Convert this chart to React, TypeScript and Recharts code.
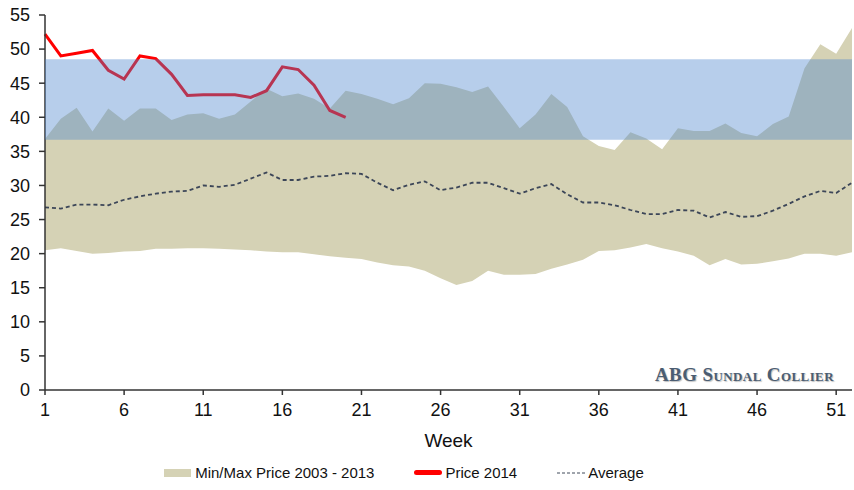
import React from 'react';
import { ComposedChart, Area, Line, XAxis, YAxis, ReferenceArea } from 'recharts';

// Weekly values
const weeks = Array.from({ length: 52 }, (_, i) => i + 1);

const minPrice = [
  20.5, 20.8, 20.4, 20.0, 20.1, 20.3, 20.4, 20.7, 20.7, 20.8, 20.8, 20.7, 20.6, 20.5, 20.3, 20.2,
  20.2, 19.9, 19.6, 19.4, 19.2, 18.7, 18.3, 18.1, 17.5, 16.4, 15.4, 16.0, 17.5, 16.9, 16.9, 17.0, 17.8, 18.4,
  19.1, 20.4, 20.5, 20.9, 21.4, 20.8, 20.3, 19.7, 18.3, 19.2, 18.4, 18.5, 18.9, 19.3, 20.0, 20.0, 19.7, 20.2,
];

const maxPrice = [
  36.8, 39.8, 41.4, 37.9, 41.3, 39.5, 41.3, 41.3, 39.6, 40.4, 40.6, 39.8, 40.4, 42.3, 44.2, 43.1,
  43.5, 42.7, 41.3, 43.9, 43.4, 42.7, 41.9, 42.8, 45.0, 44.9, 44.4, 43.7, 44.5, 41.5, 38.4, 40.4, 43.4, 41.5,
  37.2, 35.8, 35.2, 37.8, 36.9, 35.3, 38.4, 38.0, 38.0, 39.1, 37.7, 37.2, 39.0, 40.1, 47.2, 50.7, 49.3, 53.1,
];

const averagePrice = [
  26.8, 26.6, 27.2, 27.2, 27.1, 27.9, 28.4, 28.8, 29.1, 29.2,
  30.0, 29.8, 30.1, 31.0, 31.9, 30.8, 30.8, 31.3, 31.4, 31.8,
  31.7, 30.4, 29.3, 30.1, 30.6, 29.3, 29.7, 30.4, 30.4, 29.6,
  28.8, 29.6, 30.2, 28.7, 27.5, 27.5, 27.1, 26.4, 25.8, 25.8,
  26.4, 26.3, 25.3, 26.1, 25.4, 25.5, 26.3, 27.3, 28.4, 29.2,
  28.9, 30.4,
];

const price2014 = [
  52.2, 49.0, 49.4, 49.8, 46.9, 45.6, 49.0, 48.6, 46.3, 43.2,
  43.3, 43.3, 43.3, 42.9, 43.9, 47.4, 47.0, 44.7, 41.0, 40.0,
];

// Blue band (range highlighted across the whole year)
const bandLow = 36.7;
const bandHigh = 48.5;

const xTicks = [1, 6, 11, 16, 21, 26, 31, 36, 41, 46, 51];
const yTicks = [0, 5, 10, 15, 20, 25, 30, 35, 40, 45, 50, 55];

const TAN = '#d5d2b5';
const FONT = '"Liberation Sans", Arial, sans-serif';

const chartData = weeks.map((week, i) => ({
  week,
  range: [minPrice[i], maxPrice[i]],
  average: averagePrice[i],
  price: i < price2014.length ? price2014[i] : null,
}));

const LegendRow: React.FC = () => (
  <div style={{
    position: 'absolute',
    top: 464,
    left: 0,
    width: 808,
    display: 'flex',
    justifyContent: 'center',
    alignItems: 'center',
    fontFamily: FONT,
    fontSize: 15,
    color: '#111',
  }}>
    <span style={{ display: 'inline-block', width: 27, height: 8, background: TAN, marginRight: 4 }} />
    <span>Min/Max Price 2003 - 2013</span>
    <span style={{ display: 'inline-block', width: 28, height: 5, borderRadius: 3, background: '#ff0000', marginLeft: 40, marginRight: 3 }} />
    <span>Price 2014</span>
    <svg width={28} height={6} style={{ marginLeft: 40, marginRight: 3 }}>
      <line x1={0} y1={3} x2={28} y2={3} stroke="#404a5a" strokeWidth={1} strokeDasharray="3 2" />
    </svg>
    <span>Average</span>
  </div>
);

export default function App() {
  return (
    <div style={{ position: 'absolute', left: 0, top: 0, width: 854, height: 490, background: '#fff' }}>
      <ComposedChart
        width={854}
        height={490}
        data={chartData}
        margin={{ top: 15, right: 2, left: 0, bottom: 40 }}
      >
        <XAxis
          dataKey="week"
          type="number"
          domain={[1, 52]}
          ticks={xTicks}
          interval={0}
          height={60}
          tickSize={5}
          tickMargin={8}
          stroke="#333"
          strokeWidth={1.5}
          tick={{ fill: '#111', fontSize: 18, fontFamily: FONT }}
          label={{ value: 'Week', position: 'insideBottom', offset: 3, fill: '#111', fontSize: 19, fontFamily: FONT }}
        />
        <YAxis
          type="number"
          domain={[0, 55]}
          ticks={yTicks}
          interval={0}
          width={45}
          tickSize={6}
          tickMargin={9}
          stroke="#333"
          strokeWidth={1.5}
          tick={{ fill: '#111', fontSize: 18, fontFamily: FONT }}
        />
        <Area
          dataKey="range"
          type="linear"
          stroke="none"
          fill={TAN}
          fillOpacity={1}
          isAnimationActive={false}
        />
        <Line
          dataKey="average"
          type="linear"
          stroke="#3c4658"
          strokeWidth={1.8}
          strokeDasharray="4 3"
          dot={false}
          isAnimationActive={false}
        />
        <Line
          dataKey="price"
          type="linear"
          stroke="#ff0000"
          strokeWidth={3}
          dot={false}
          connectNulls={false}
          isAnimationActive={false}
        />
        <ReferenceArea
          y1={bandLow}
          y2={bandHigh}
          fill="#4a84cd"
          fillOpacity={0.4}
          stroke="none"
          zIndex={1000}
        />
      </ComposedChart>
      <div style={{
        position: 'absolute',
        left: 655,
        top: 364,
        fontFamily: '"Liberation Serif", "DejaVu Serif", serif',
        fontWeight: 'bold',
        fontVariant: 'small-caps',
        fontSize: 19,
        color: '#4b5d72',
        letterSpacing: 0.4,
        textShadow: '1px 1px 1px rgba(0,0,0,0.25)',
      }}>
        ABG Sundal Collier
      </div>
      <LegendRow />
    </div>
  );
}
